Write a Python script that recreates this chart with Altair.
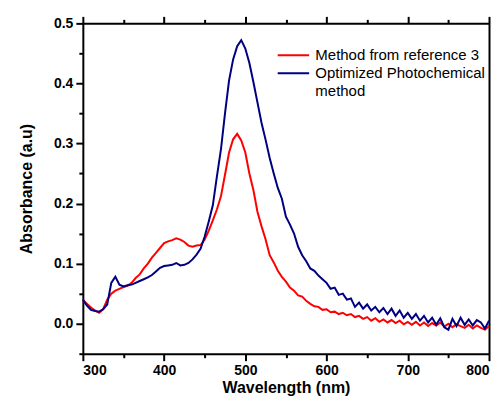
import altair as alt
import pandas as pd

FONT = "Liberation Sans"

wavelength = list(range(300, 805, 5))

reference3 = [
    0.040, 0.033, 0.027, 0.022, 0.018, 0.024, 0.040, 0.050, 0.055, 0.058,
    0.061, 0.063, 0.068, 0.076, 0.082, 0.092, 0.100, 0.110, 0.118, 0.126,
    0.134, 0.137, 0.139, 0.142, 0.140, 0.136, 0.130, 0.128, 0.130, 0.131,
    0.140, 0.155, 0.172, 0.190, 0.212, 0.248, 0.285, 0.307, 0.316, 0.305,
    0.285, 0.250, 0.222, 0.186, 0.162, 0.140, 0.114, 0.102, 0.088, 0.078,
    0.070, 0.060, 0.055, 0.047, 0.045, 0.038, 0.033, 0.029, 0.028, 0.023,
    0.024, 0.019, 0.020, 0.016, 0.018, 0.014, 0.016, 0.011, 0.013, 0.008,
    0.011, 0.005, 0.009, 0.003, 0.007, 0.002, 0.006, 0.001, 0.005, -0.001,
    0.003, -0.002, 0.003, -0.003, 0.002, -0.004, 0.001, -0.003, 0.002, -0.005,
    0.000, -0.006, -0.001, -0.004, -0.007, -0.002, -0.008, -0.003, -0.007, -0.010,
    -0.004,
]

photochemical = [
    0.040, 0.030, 0.023, 0.021, 0.020, 0.024, 0.032, 0.068, 0.078, 0.065,
    0.062, 0.064, 0.065, 0.068, 0.071, 0.074, 0.077, 0.081, 0.087, 0.093,
    0.096, 0.097, 0.098, 0.101, 0.097, 0.098, 0.101, 0.107, 0.115, 0.125,
    0.145, 0.170, 0.197, 0.245, 0.290, 0.350, 0.405, 0.440, 0.462, 0.472,
    0.458, 0.434, 0.402, 0.368, 0.334, 0.306, 0.276, 0.250, 0.226, 0.208,
    0.178, 0.165, 0.150, 0.128, 0.114, 0.104, 0.092, 0.088, 0.080, 0.074,
    0.068, 0.058, 0.060, 0.048, 0.050, 0.040, 0.042, 0.028, 0.035, 0.025,
    0.032, 0.022, 0.028, 0.019, 0.026, 0.016, 0.025, 0.013, 0.022, 0.010,
    0.018, 0.008, 0.016, 0.005, 0.013, 0.002, 0.010, -0.002, 0.009, -0.006,
    -0.010, 0.008, -0.004, 0.010, -0.002, 0.007, -0.003, 0.006, 0.002, -0.008,
    0.005,
]

series_names = ["Method from reference 3", "Optimized Photochemical", "\u00a0method"]
series_colors = ["#ff0000", "#000080", "rgba(0,0,0,0)"]

x_major = [300, 400, 500, 600, 700, 800]
x_minor = [350, 450, 550, 650, 750]
y_major = [0.0, 0.1, 0.2, 0.3, 0.4, 0.5]
y_minor = [-0.05, 0.05, 0.15, 0.25, 0.35, 0.45]

df = pd.concat([
    pd.DataFrame({"wavelength": wavelength, "absorbance": reference3, "series": series_names[0]}),
    pd.DataFrame({"wavelength": wavelength, "absorbance": photochemical, "series": series_names[1]}),
])

xscale = alt.Scale(domain=[300, 800], nice=False, zero=False)
yscale = alt.Scale(domain=[-0.05, 0.5], nice=False, zero=False)

common = dict(
    domainColor="black", domainWidth=2, tickColor="black", tickWidth=2, grid=False,
    labelFont=FONT, labelFontWeight="bold", labelFontSize=14, labelColor="black",
    titleFont=FONT, titleFontWeight="bold", titleFontSize=16, titleColor="black",
)

base = alt.Chart(df)

lines = base.mark_line(strokeWidth=2).encode(
    x=alt.X("wavelength:Q", scale=xscale,
            axis=alt.Axis(orient="bottom", values=x_major, format="d", tickSize=7,
                          labelPadding=3, title="Wavelength (nm)", titlePadding=2, **common)),
    y=alt.Y("absorbance:Q", scale=yscale,
            axis=alt.Axis(orient="left", values=y_major, format=".1f", tickSize=7,
                          labelPadding=3, title="Absorbance (a.u)", titlePadding=19, **common)),
    color=alt.Color("series:N",
                    scale=alt.Scale(domain=series_names, range=series_colors),
                    legend=alt.Legend(orient="none", legendX=201, legendY=22, title=None,
                                      symbolType="M-1.75,0H1.75", symbolSize=324,
                                      symbolStrokeWidth=2,
                                      labelFont=FONT, labelFontSize=15, labelColor="black",
                                      labelLimit=0, labelOffset=12, rowPadding=0, padding=0)),
)

minor = base.mark_line(opacity=0).encode(
    x=alt.X("wavelength:Q", scale=xscale,
            axis=alt.Axis(orient="bottom", values=x_minor, tickSize=4, labels=False,
                          domain=False, title=None, **common)),
    y=alt.Y("absorbance:Q", scale=yscale,
            axis=alt.Axis(orient="left", values=y_minor, tickSize=4, labels=False,
                          domain=False, title=None, **common)),
)

frame = base.mark_line(opacity=0).encode(
    x=alt.X("wavelength:Q", scale=xscale,
            axis=alt.Axis(orient="top", values=x_major, tickSize=7, labels=False,
                          title=None, **common)),
    y=alt.Y("absorbance:Q", scale=yscale,
            axis=alt.Axis(orient="right", values=[], ticks=False, labels=False,
                          title=None, **common)),
)

frame_minor = base.mark_line(opacity=0).encode(
    x=alt.X("wavelength:Q", scale=xscale,
            axis=alt.Axis(orient="top", values=x_minor, tickSize=4, labels=False,
                          domain=False, title=None, **common)),
    y=alt.Y("absorbance:Q", scale=yscale, axis=None),
)

chart = alt.layer(lines, minor, frame, frame_minor).resolve_axis(
    x="independent", y="independent"
).properties(
    width=407, height=331,
    autosize=alt.AutoSizeParams(type="none"),
    padding={"left": 75, "top": 15, "right": 5, "bottom": 43},
).configure_view(stroke=None)

chart.save("out.html", embed_options={"renderer": "svg", "actions": False})
